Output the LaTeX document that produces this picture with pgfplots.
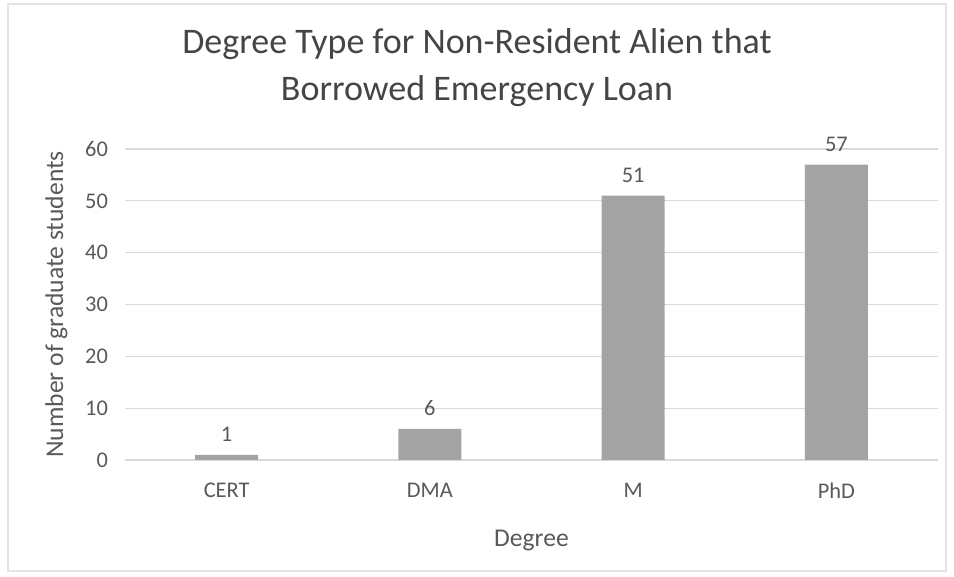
\documentclass[border=0pt]{standalone}
\usepackage{pgfplots}
\pgfplotsset{compat=1.18}
\usepackage{fontspec}
\setmainfont{Carlito}

\definecolor{bargray}{HTML}{A3A3A3}
\definecolor{gridgray}{HTML}{D9D9D9}
\definecolor{textgray}{HTML}{595959}
\definecolor{titlegray}{HTML}{454545}
\definecolor{framegray}{HTML}{E3E3E3}

\begin{document}
\begin{tikzpicture}
  % chart area
  \path[use as bounding box] (0,0) rectangle (477pt,288.5pt);
  \draw[framegray, line width=0.6pt] (4pt,3pt) rectangle (473pt,286.5pt);

  \begin{axis}[
    at={(62.5pt,58.5pt)}, anchor=south west,
    scale only axis,
    width=406.5pt, height=155.5pt,
    xmin=-0.5, xmax=3.5,
    ymin=0, ymax=60,
    ytick={0,10,...,60},
    xtick={0,1,2,3},
    xticklabels={CERT,DMA,M,PhD},
    axis line style={draw=none},
    major tick length=0pt,
    ymajorgrids,
    grid style={gridgray, line width=0.6pt},
    tick label style={textgray, font=\fontsize{11.2}{13}\selectfont},
    /pgf/number format/assume math mode=true,
    yticklabel style={xshift=-5pt},
    xticklabel style={yshift=-8pt},
    xlabel={Degree},
    ylabel={Number of graduate students},
    label style={textgray, font=\fontsize{12.8}{15}\selectfont},
    xlabel style={yshift=-9pt},
    ylabel style={yshift=2pt},
    clip=false,
  ]
    \addplot[ybar, bar width=31.5pt, fill=bargray, draw=none,
      nodes near coords,
      every node near coord/.append style={textgray, font=\fontsize{11.2}{13}\selectfont, yshift=3pt}]
      coordinates {(0,1) (1,6) (2,51) (3,57)};
  \end{axis}

  \node[titlegray, align=center, font=\fontsize{18}{23.5}\selectfont]
    at (238.5pt,254.5pt) {Degree Type for Non-Resident Alien that\\Borrowed Emergency Loan};
\end{tikzpicture}
\end{document}
